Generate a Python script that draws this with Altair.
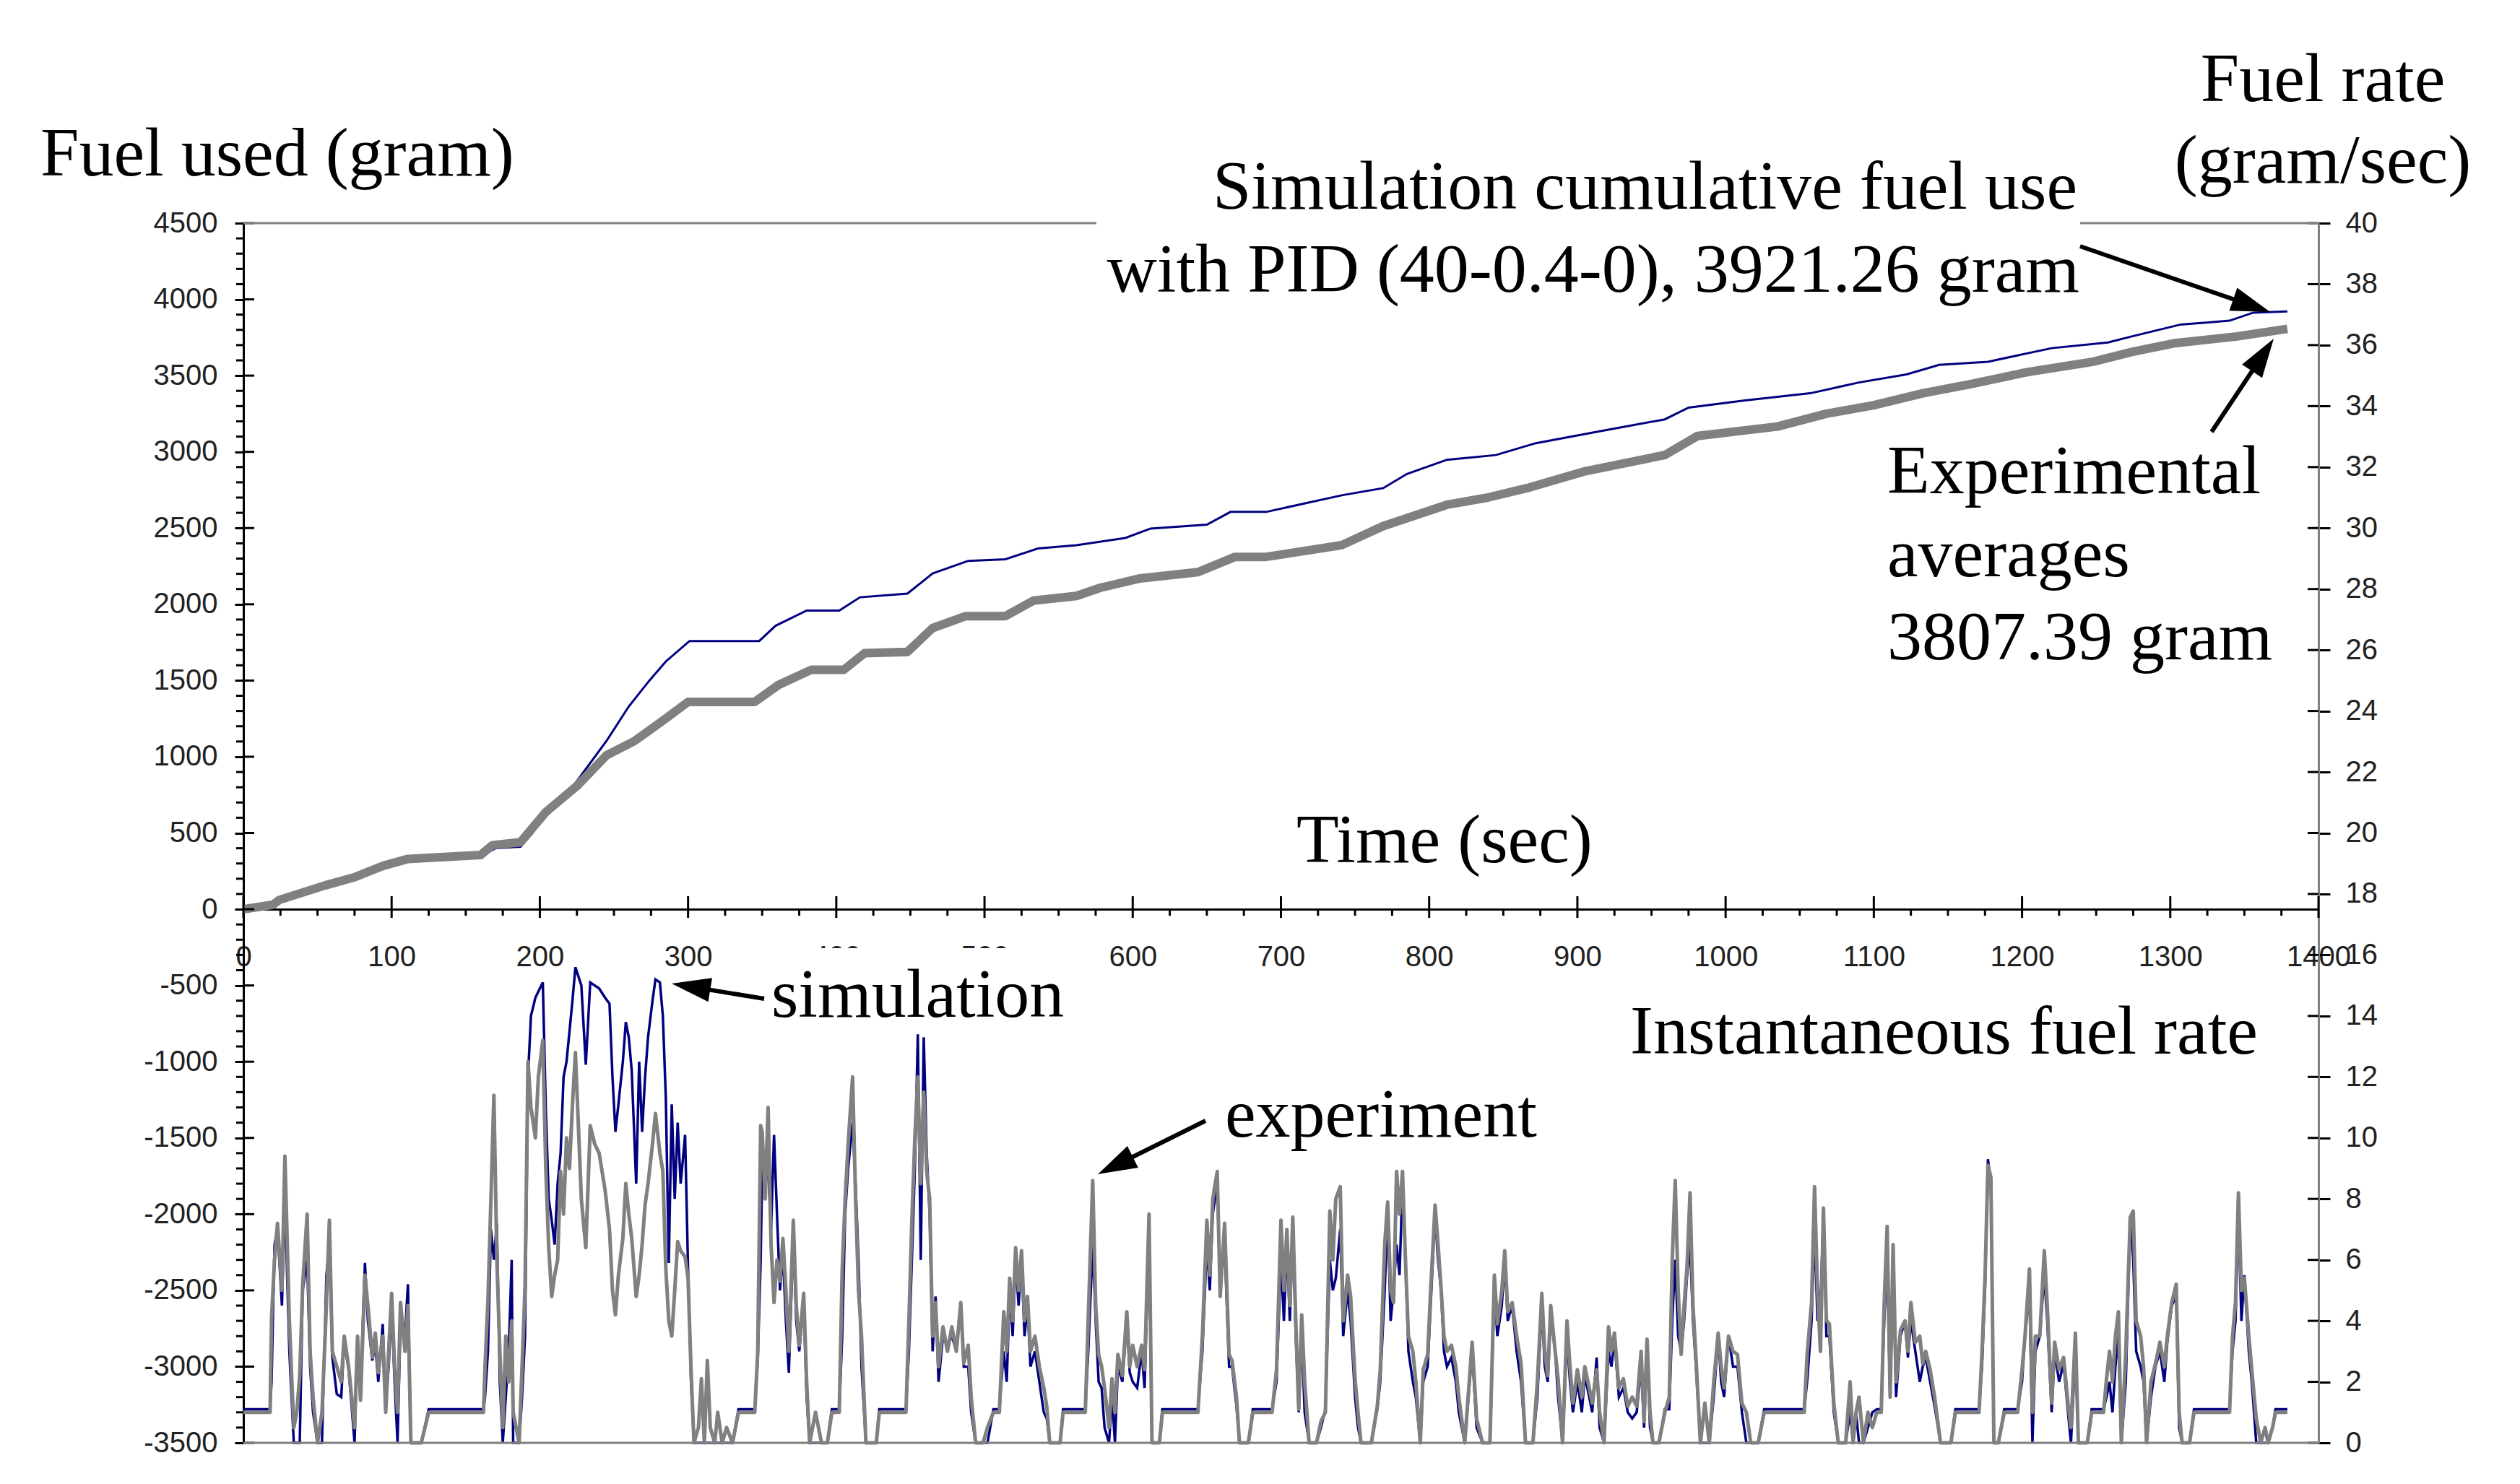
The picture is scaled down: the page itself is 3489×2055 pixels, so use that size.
import math

import altair as alt
import pandas as pd

# cumulative fuel used (gram)
cum_sim_t = [0, 24, 55, 94, 111, 160, 170, 187, 195, 204,
             215, 225, 245, 260, 274, 285, 301, 348, 359, 380,
             402, 416, 448, 465, 489, 514, 536, 562, 595, 612,
             650, 666, 690, 741, 769, 785, 812, 845, 872, 915,
             959, 975, 1013, 1057, 1090, 1122, 1144, 1177, 1220, 1258,
             1274, 1307, 1340, 1356, 1379]
cum_sim = [0, 45, 150, 270, 315, 345, 400, 410, 500, 637,
           730, 840, 1104, 1330, 1501, 1625, 1759, 1759, 1859, 1959,
           1959, 2046, 2070, 2202, 2285, 2295, 2366, 2387, 2435, 2497,
           2522, 2606, 2606, 2715, 2762, 2855, 2948, 2979, 3057, 3135,
           3213, 3290, 3337, 3384, 3455, 3508, 3570, 3591, 3680, 3717,
           3757, 3835, 3860, 3913, 3921]

cum_exp_t = [0, 20, 24, 40, 55, 75, 94, 111, 160, 168,
             187, 204, 225, 245, 264, 285, 300, 345, 361, 383,
             405, 419, 448, 465, 487, 514, 533, 562, 578, 605,
             644, 669, 690, 741, 769, 812, 839, 866, 904, 959,
             981, 1035, 1068, 1100, 1133, 1166, 1204, 1248, 1274, 1302,
             1345, 1379]
cum_exp = [0, 30, 60, 110, 156, 210, 284, 330, 355, 420,
           440, 637, 808, 1010, 1104, 1251, 1360, 1360, 1471, 1570,
           1570, 1679, 1688, 1844, 1922, 1922, 2024, 2055, 2108, 2170,
           2211, 2311, 2311, 2388, 2513, 2653, 2699, 2762, 2870, 2979,
           3104, 3166, 3250, 3306, 3384, 3446, 3524, 3591, 3655, 3711,
           3757, 3807]

# instantaneous fuel rate (gram/sec), lower curves
rate_t = [
    0, 18, 19, 21, 23, 26, 28, 31, 34, 36,
    38, 40, 43, 45, 47, 50, 53, 56, 58, 60,
    63, 66, 68, 71, 75, 77, 79, 82, 84, 87,
    89, 91, 94, 96, 98, 100, 102, 104, 106, 109,
    111, 113, 120, 125, 162, 163, 165, 167, 169, 171,
    173, 175, 177, 179, 181, 182, 186, 188, 190, 192,
    194, 197, 199, 202, 204, 206, 208, 210, 212, 214,
    216, 218, 220, 222, 224, 226, 228, 231, 234, 237,
    240, 244, 247, 249, 251, 253, 256, 258, 260, 262,
    265, 267, 269, 271, 273, 276, 278, 281, 283, 285,
    287, 289, 291, 293, 295, 298, 300, 302, 304, 307,
    309, 311, 313, 315, 318, 320, 323, 326, 330, 334,
    345, 347, 349, 350, 352, 354, 356, 358, 360, 362,
    364, 366, 368, 371, 373, 375, 378, 380, 382, 386,
    390, 394, 397, 402, 404, 406, 408, 411, 413, 415,
    417, 420, 427, 429, 447, 449, 451, 453, 455, 457,
    459, 461, 463, 465, 467, 469, 472, 475, 478, 481,
    484, 486, 489, 491, 494, 499, 502, 506, 510, 513,
    515, 517, 519, 521, 523, 525, 527, 529, 531, 534,
    537, 540, 542, 544, 551, 553, 568, 570, 573, 575,
    577, 579, 581, 584, 586, 588, 590, 593, 596, 598,
    600, 603, 606, 608, 611, 613, 618, 620, 644, 647,
    650, 652, 654, 657, 659, 662, 665, 667, 670, 672,
    678, 681, 694, 697, 700, 702, 704, 706, 708, 710,
    712, 714, 716, 719, 724, 727, 730, 733, 735, 737,
    740, 742, 745, 747, 750, 752, 754, 761, 765, 767,
    770, 772, 774, 776, 778, 780, 782, 784, 786, 789,
    791, 794, 796, 799, 801, 804, 806, 808, 810, 812,
    815, 818, 820, 824, 829, 832, 836, 841, 844, 846,
    849, 851, 853, 856, 859, 862, 865, 870, 873, 876,
    878, 880, 882, 885, 887, 890, 893, 895, 897, 900,
    903, 905, 908, 910, 913, 915, 918, 921, 923, 925,
    928, 931, 934, 937, 940, 943, 945, 947, 949, 951,
    955, 959, 962, 964, 966, 968, 970, 972, 974, 976,
    978, 980, 983, 986, 989, 992, 995, 997, 999, 1002,
    1005, 1008, 1011, 1014, 1017, 1022, 1026, 1053, 1055, 1058,
    1060, 1062, 1064, 1066, 1068, 1070, 1073, 1076, 1081, 1084,
    1086, 1088, 1090, 1093, 1096, 1099, 1102, 1105, 1107, 1109,
    1111, 1113, 1115, 1118, 1121, 1123, 1125, 1128, 1131, 1133,
    1135, 1138, 1141, 1145, 1152, 1155, 1171, 1173, 1175, 1177,
    1179, 1181, 1184, 1188, 1197, 1200, 1202, 1205, 1207, 1209,
    1212, 1215, 1217, 1220, 1222, 1225, 1228, 1231, 1233, 1236,
    1238, 1244, 1247, 1255, 1257, 1259, 1261, 1263, 1265, 1267,
    1270, 1273, 1275, 1277, 1280, 1282, 1284, 1287, 1290, 1293,
    1296, 1298, 1301, 1304, 1306, 1308, 1313, 1316, 1340, 1342,
    1344, 1346, 1348, 1350, 1353, 1355, 1358, 1361, 1364, 1366,
    1369, 1371, 1379,
]
rate_sim = [
    1.1, 1.1, 2.0, 6.5, 7.0, 4.5, 8.0, 3.0, 0.0, 0.0,
    0.0, 5.0, 6.0, 2.5, 1.0, 0.0, 0.0, 5.5, 6.5, 2.8,
    1.6, 1.5, 3.3, 2.4, 0.0, 3.5, 1.8, 5.9, 4.0, 2.7,
    3.2, 2.0, 3.9, 1.2, 2.5, 4.5, 2.0, 0.0, 4.0, 3.5,
    5.2, 0.0, 0.0, 1.1, 1.1, 1.5, 3.0, 7.0, 6.0, 7.2,
    2.0, 0.0, 1.5, 3.0, 6.0, 0.0, 0.0, 1.5, 3.5, 12.0,
    14.0, 14.6, 14.8, 15.1, 11.0, 8.0, 7.3, 6.5, 8.5, 9.5,
    12.0, 12.5, 13.5, 14.5, 15.6, 15.3, 15.0, 12.4, 15.1, 15.0,
    14.9, 14.6, 14.4, 12.0, 10.2, 11.1, 12.5, 13.8, 13.3, 12.2,
    8.5, 12.5, 10.2, 12.0, 13.3, 14.5, 15.2, 15.1, 14.0, 11.3,
    5.9, 11.1, 8.0, 10.5, 8.5, 10.1, 5.7, 2.0, 0.0, 0.0,
    0.0, 0.0, 0.0, 0.0, 0.0, 0.0, 0.0, 0.0, 0.0, 1.1,
    1.1, 2.7, 6.0, 9.0, 8.5, 9.0, 7.0, 10.1, 7.5, 5.0,
    6.2, 4.0, 2.3, 6.8, 4.0, 3.0, 4.6, 1.5, 0.0, 0.0,
    0.0, 0.0, 1.1, 1.1, 3.5, 7.5, 9.0, 10.5, 8.5, 6.0,
    2.5, 0.0, 0.0, 1.1, 1.1, 3.0, 6.0, 9.0, 13.4, 6.0,
    13.3, 9.5, 7.5, 3.0, 4.8, 2.0, 3.5, 3.2, 3.5, 3.0,
    4.5, 2.5, 2.5, 1.0, 0.0, 0.0, 0.0, 1.1, 1.1, 3.0,
    2.0, 5.0, 3.5, 6.0, 4.5, 6.0, 3.5, 4.5, 2.5, 3.0,
    2.0, 1.0, 0.8, 0.0, 0.0, 1.1, 1.1, 3.0, 6.5, 4.0,
    2.0, 1.8, 0.5, 0.0, 1.5, 0.0, 2.5, 2.0, 4.0, 2.3,
    2.0, 1.8, 3.0, 1.8, 7.0, 0.0, 0.0, 1.1, 1.1, 3.0,
    6.5, 5.0, 7.5, 8.5, 5.0, 6.5, 2.5, 2.5, 1.2, 0.0,
    0.0, 1.1, 1.1, 2.0, 6.0, 4.0, 6.5, 4.0, 7.0, 3.5,
    1.0, 3.5, 1.0, 0.0, 0.0, 0.5, 1.1, 6.0, 5.0, 5.4,
    7.0, 3.5, 5.0, 4.0, 1.5, 0.5, 0.0, 0.0, 1.1, 2.0,
    5.0, 7.5, 4.0, 5.0, 6.5, 5.5, 8.5, 6.0, 3.0, 2.0,
    1.5, 0.0, 2.0, 2.5, 4.5, 7.5, 6.0, 5.0, 3.0, 2.5,
    2.8, 2.0, 1.0, 0.0, 3.0, 0.5, 0.0, 0.0, 5.0, 3.5,
    4.5, 6.0, 4.0, 4.5, 3.0, 2.0, 0.0, 0.0, 1.5, 4.5,
    2.5, 2.0, 4.2, 3.0, 1.5, 0.0, 3.5, 2.0, 1.0, 2.0,
    1.0, 2.2, 1.5, 1.0, 2.8, 0.5, 0.0, 3.0, 2.5, 3.4,
    1.5, 1.8, 1.0, 0.8, 1.0, 2.5, 0.5, 3.2, 0.5, 0.0,
    0.0, 1.1, 1.1, 4.0, 6.0, 3.5, 3.0, 4.0, 5.5, 6.5,
    4.0, 2.5, 0.0, 0.0, 0.0, 1.5, 3.5, 2.0, 1.5, 3.5,
    2.5, 2.5, 1.0, 0.0, 0.0, 0.0, 1.1, 1.1, 2.0, 4.0,
    7.0, 4.0, 4.5, 7.5, 3.5, 3.5, 1.0, 0.0, 0.0, 1.0,
    0.0, 1.0, 0.0, 0.0, 0.5, 1.0, 1.1, 1.1, 4.0, 6.0,
    1.5, 6.0, 1.5, 3.5, 4.0, 2.8, 4.0, 3.0, 2.0, 2.5,
    2.8, 2.0, 1.2, 0.0, 0.0, 1.1, 1.1, 2.5, 5.0, 9.3,
    8.5, 0.0, 0.0, 1.1, 1.1, 2.0, 3.5, 5.0, 0.0, 3.0,
    3.5, 5.5, 4.0, 1.0, 3.0, 2.0, 2.6, 1.0, 0.0, 3.0,
    0.0, 0.0, 1.1, 1.1, 1.5, 2.0, 1.0, 2.5, 3.5, 0.0,
    2.0, 7.4, 6.0, 3.0, 2.5, 2.0, 0.0, 1.5, 2.5, 3.0,
    2.0, 3.3, 4.5, 4.8, 0.5, 0.0, 0.0, 1.1, 1.1, 3.0,
    4.0, 7.5, 4.0, 5.5, 3.0, 2.0, 0.0, 0.0, 0.0, 0.0,
    0.5, 1.1, 1.1,
]
rate_exp = [
    1.0, 1.0, 4.1, 6.0, 7.2, 5.0, 9.4, 4.0, 0.5, 1.0,
    2.2, 5.2, 7.5, 3.0, 1.5, 0.0, 1.0, 4.5, 7.3, 3.0,
    2.5, 2.0, 3.5, 2.5, 0.5, 3.5, 1.4, 5.5, 4.5, 2.8,
    3.6, 2.3, 3.5, 1.0, 3.0, 4.9, 2.5, 1.0, 4.6, 3.0,
    4.5, 0.0, 0.0, 1.0, 1.0, 2.5, 4.7, 8.0, 11.4, 6.0,
    3.0, 0.5, 3.5, 2.0, 4.0, 1.0, 0.0, 2.5, 5.1, 12.5,
    11.0, 10.0, 12.0, 13.2, 9.0, 6.4, 4.8, 5.5, 6.0, 8.9,
    7.5, 10.0, 9.0, 11.1, 12.8, 10.4, 8.0, 6.4, 10.4, 9.8,
    9.5, 8.3, 7.0, 5.0, 4.2, 5.5, 6.7, 8.5, 7.5, 6.7,
    4.8, 5.5, 6.5, 7.8, 8.5, 9.8, 10.8, 9.5, 8.9, 5.7,
    4.0, 3.5, 5.0, 6.6, 6.3, 6.1, 5.4, 2.4, 0.0, 0.5,
    2.1, 0.0, 2.7, 0.5, 0.0, 1.0, 0.0, 0.5, 0.0, 1.0,
    1.0, 3.0, 10.4, 10.2, 8.0, 11.0, 6.5, 4.6, 6.0, 5.3,
    6.7, 5.0, 3.0, 7.3, 4.5, 3.2, 4.9, 2.0, 0.0, 1.0,
    0.0, 0.0, 1.0, 1.0, 5.7, 8.0, 9.8, 12.0, 8.0, 5.0,
    3.5, 0.0, 0.0, 1.0, 1.0, 4.0, 7.3, 10.0, 12.0, 8.5,
    11.5, 8.9, 8.0, 3.5, 4.6, 2.5, 3.8, 3.0, 3.8, 3.0,
    4.6, 2.6, 3.2, 1.5, 0.0, 0.0, 0.5, 1.0, 1.0, 4.3,
    3.0, 5.4, 4.0, 6.4, 5.0, 6.3, 4.0, 4.8, 3.0, 3.5,
    2.5, 1.8, 1.2, 0.0, 0.0, 1.0, 1.0, 4.1, 8.6, 4.5,
    2.9, 2.5, 1.8, 0.5, 2.1, 1.0, 2.9, 2.2, 4.3, 2.5,
    3.2, 2.5, 3.2, 2.4, 7.5, 0.0, 0.0, 1.0, 1.0, 3.5,
    7.3, 5.5, 8.0, 8.9, 4.8, 7.2, 2.9, 2.7, 1.5, 0.0,
    0.0, 1.0, 1.0, 2.4, 7.3, 5.0, 7.0, 4.5, 7.4, 4.0,
    1.1, 4.2, 2.0, 0.0, 0.0, 0.7, 1.0, 7.6, 6.0, 8.0,
    8.4, 4.0, 5.5, 4.8, 2.1, 1.0, 0.0, 0.0, 1.2, 2.4,
    6.5, 7.9, 5.0, 4.6, 8.9, 7.5, 8.9, 6.0, 3.5, 3.0,
    2.0, 0.0, 2.4, 2.9, 5.0, 7.8, 6.5, 5.1, 3.5, 3.0,
    3.2, 2.5, 1.5, 0.0, 3.3, 0.8, 0.0, 0.0, 5.5, 3.9,
    5.0, 6.3, 4.3, 4.6, 3.5, 2.6, 0.0, 0.0, 2.0, 4.9,
    3.0, 2.2, 4.5, 3.0, 2.1, 0.0, 4.0, 2.5, 1.3, 2.4,
    1.5, 2.5, 1.8, 1.3, 2.4, 1.0, 0.0, 3.8, 3.0, 3.6,
    1.8, 2.1, 1.2, 1.5, 1.2, 3.0, 0.7, 3.4, 1.0, 0.0,
    0.0, 1.0, 1.5, 6.0, 8.6, 5.0, 2.9, 4.5, 5.8, 8.2,
    4.5, 2.8, 0.0, 1.3, 0.0, 2.0, 3.6, 2.5, 1.8, 3.5,
    3.0, 2.9, 1.3, 1.0, 0.0, 0.0, 1.0, 1.0, 2.9, 4.6,
    8.4, 5.0, 3.0, 7.7, 4.0, 3.9, 1.3, 0.0, 0.0, 2.0,
    0.0, 1.0, 1.5, 0.0, 1.0, 0.5, 1.0, 1.0, 4.6, 7.1,
    1.5, 6.5, 2.0, 3.7, 4.0, 3.0, 4.6, 3.3, 3.5, 2.6,
    3.0, 2.4, 1.5, 0.0, 0.0, 1.0, 1.0, 3.0, 5.4, 9.1,
    8.7, 0.0, 0.0, 1.0, 1.0, 2.4, 3.5, 5.7, 1.0, 3.5,
    3.5, 6.3, 4.5, 1.3, 3.3, 2.4, 2.8, 1.3, 0.5, 3.6,
    0.0, 0.0, 1.0, 1.0, 2.1, 3.0, 2.0, 3.5, 4.3, 0.0,
    3.0, 7.4, 7.6, 4.0, 3.5, 2.5, 0.0, 2.0, 2.6, 3.3,
    2.5, 3.5, 4.6, 5.2, 1.0, 0.0, 0.0, 1.0, 1.0, 3.5,
    4.6, 8.2, 5.0, 5.4, 3.5, 2.4, 0.8, 0.0, 0.5, 0.0,
    0.5, 1.0, 1.0,
]

# axis ticks
x_ticks = list(range(0, 1401, 100))
x_minor = [t for t in range(0, 1401, 25) if t % 100]
left_ticks = list(range(-3500, 4501, 500))
left_minor = [v for v in range(-3500, 4501, 100) if v % 500]
right_ticks = list(range(0, 41, 2))

NAVY = "#000080"
GREY = "#808080"
SERIF = "Liberation Serif"
SANS = "Liberation Sans"

W, H = 2873, 1689      # plot area
X0, Y0 = 337, 309      # plot origin on the page
ZERO = H * 4500 / 8000  # pixel row of 0 gram

x_scale = alt.Scale(domain=[0, 1400], nice=False, zero=False)
left_scale = alt.Scale(domain=[-3500, 4500], nice=False, zero=False)
right_scale = alt.Scale(domain=[0, 40], nice=False, zero=False)

x_axis = alt.Axis(values=x_ticks, orient="bottom", offset=-(H - ZERO), ticks=False,
                  tickSize=0, domainColor="black", domainWidth=3, labelFont=SANS,
                  labelFontSize=40, labelColor="#222", labelPadding=46,
                  labelFlush=False, labelExpr="'' + datum.value",
                  grid=False, title=None)
left_axis = alt.Axis(values=left_ticks, orient="left", tickSize=12, tickWidth=3,
                     tickColor="black", domainColor="black", domainWidth=3,
                     labelFont=SANS, labelFontSize=40, labelColor="#222",
                     labelPadding=24, labelFlush=False, labelExpr="'' + datum.value",
                     grid=False, title=None)
right_axis = alt.Axis(values=right_ticks, orient="right", tickSize=16, tickWidth=3,
                      tickColor="black", domainColor=GREY, domainWidth=3,
                      labelFont=SANS, labelFontSize=40, labelColor="#222",
                      labelPadding=21, labelFlush=False, grid=False, title=None)

X = alt.X("t:Q", scale=x_scale, axis=x_axis)


def yl(field):
    return alt.Y(field, scale=left_scale, axis=left_axis)


def yr(field):
    return alt.Y(field, scale=right_scale, axis=right_axis)


one = pd.DataFrame({"k": [0]})


def note(text, x, y, align="left"):
    return alt.Chart(pd.DataFrame({"label": [text]})).mark_text(
        font=SERIF, fontSize=96, color="black", align=align, baseline="alphabetic"
    ).encode(x=alt.value(x - X0), y=alt.value(y - Y0), text="label:N")


def arrow(x1, y1, x2, y2, head=54):
    dx, dy = x2 - x1, y2 - y1
    n = math.hypot(dx, dy)
    cx, cy = x2 - dx / n * head / 2, y2 - dy / n * head / 2
    ang = math.degrees(math.atan2(dx, -dy)) % 360
    shaft = alt.Chart(one).mark_rule(color="black", strokeWidth=6).encode(
        x=alt.value(x1 - X0), y=alt.value(y1 - Y0),
        x2=alt.value(cx - X0), y2=alt.value(cy - Y0))
    tip = alt.Chart(one).mark_point(
        shape="M0,-1L0.62,1L-0.62,1Z", filled=True, color="black", opacity=1,
        size=head * head, angle=ang
    ).encode(x=alt.value(cx - X0), y=alt.value(cy - Y0))
    return shaft + tip


def frame(x1, x2, y, color=GREY):
    return alt.Chart(one).mark_rule(color=color, strokeWidth=3).encode(
        x=alt.value(x1), x2=alt.value(x2), y=alt.value(y))


# white backing of the "simulation" label, which hides most of "400" and "500"
mask = alt.Chart(one).mark_rect(color="white").encode(
    x=alt.value(1060 - X0), x2=alt.value(1480 - X0),
    y=alt.value(1313 - Y0), y2=alt.value(1352 - Y0))

cs = pd.DataFrame({"t": cum_sim_t, "g": cum_sim})
ce = pd.DataFrame({"t": cum_exp_t, "g": cum_exp})
rt = pd.DataFrame({"t": rate_t, "sim": rate_sim, "exp": rate_exp})

sim_cum = alt.Chart(cs).mark_line(color=NAVY, strokeWidth=3).encode(x=X, y=yl("g:Q"))
exp_cum = alt.Chart(ce).mark_line(color=GREY, strokeWidth=12, strokeJoin="round").encode(
    x=X, y=yl("g:Q"))

minor_left = alt.Chart(pd.DataFrame({"v": left_minor})).mark_rule(
    color="black", strokeWidth=3).encode(y=yl("v:Q"), x=alt.value(-10), x2=alt.value(0))
inner_left = alt.Chart(pd.DataFrame({"v": left_ticks})).mark_rule(
    color="black", strokeWidth=3).encode(y=yl("v:Q"), x=alt.value(0), x2=alt.value(15))
major_x = alt.Chart(pd.DataFrame({"t": x_ticks})).mark_rule(
    color="black", strokeWidth=3).encode(x=X, y=alt.value(ZERO - 18), y2=alt.value(ZERO + 12))
minor_x = alt.Chart(pd.DataFrame({"t": x_minor})).mark_rule(
    color="black", strokeWidth=3).encode(x=X, y=alt.value(ZERO), y2=alt.value(ZERO + 9))

left = alt.layer(sim_cum, exp_cum, minor_left, inner_left, major_x, minor_x)

sim_rate = alt.Chart(rt).mark_line(color=NAVY, strokeWidth=3.5).encode(x=X, y=yr("sim:Q"))
exp_rate = alt.Chart(rt).mark_line(color=GREY, strokeWidth=5, strokeJoin="round").encode(
    x=X, y=yr("exp:Q"))
inner_right = alt.Chart(pd.DataFrame({"v": right_ticks})).mark_rule(
    color="black", strokeWidth=3).encode(y=yr("v:Q"), x=alt.value(W - 15), x2=alt.value(W))

right = alt.layer(sim_rate, exp_rate, inner_right)

notes = [
    frame(0, 1518 - X0, 0),
    frame(2880 - X0, W, 0),
    frame(0, W, H),
    mask,
    note("Fuel used (gram)", 56, 243),
    note("Fuel rate", 3216, 140, "center"),
    note("(gram/sec)", 3216, 253, "center"),
    note("Simulation cumulative fuel use", 2876, 289, "right"),
    note("with PID (40-0.4-0), 3921.26 gram", 2879, 404, "right"),
    note("Experimental", 2613, 683),
    note("averages", 2613, 798),
    note("3807.39 gram", 2613, 913),
    note("Time (sec)", 1795, 1194),
    note("simulation", 1068, 1408),
    note("Instantaneous fuel rate", 2257, 1459),
    note("experiment", 1696, 1574),
    arrow(2880, 341, 3143, 432),
    arrow(3062, 598, 3148, 469),
    arrow(1058, 1383, 930, 1362),
    arrow(1669, 1552, 1520, 1626),
]

chart = (
    alt.layer(left, right, *notes)
    .resolve_scale(y="independent")
    .properties(
        width=W,
        height=H,
        autosize=alt.AutoSizeParams(type="none"),
        padding={"left": X0 - 8, "top": Y0 - 8, "right": 260, "bottom": 40},
        background="white",
    )
    .configure_view(stroke=None)
)

chart.save("out.html", embed_options={"renderer": "svg", "actions": False})
